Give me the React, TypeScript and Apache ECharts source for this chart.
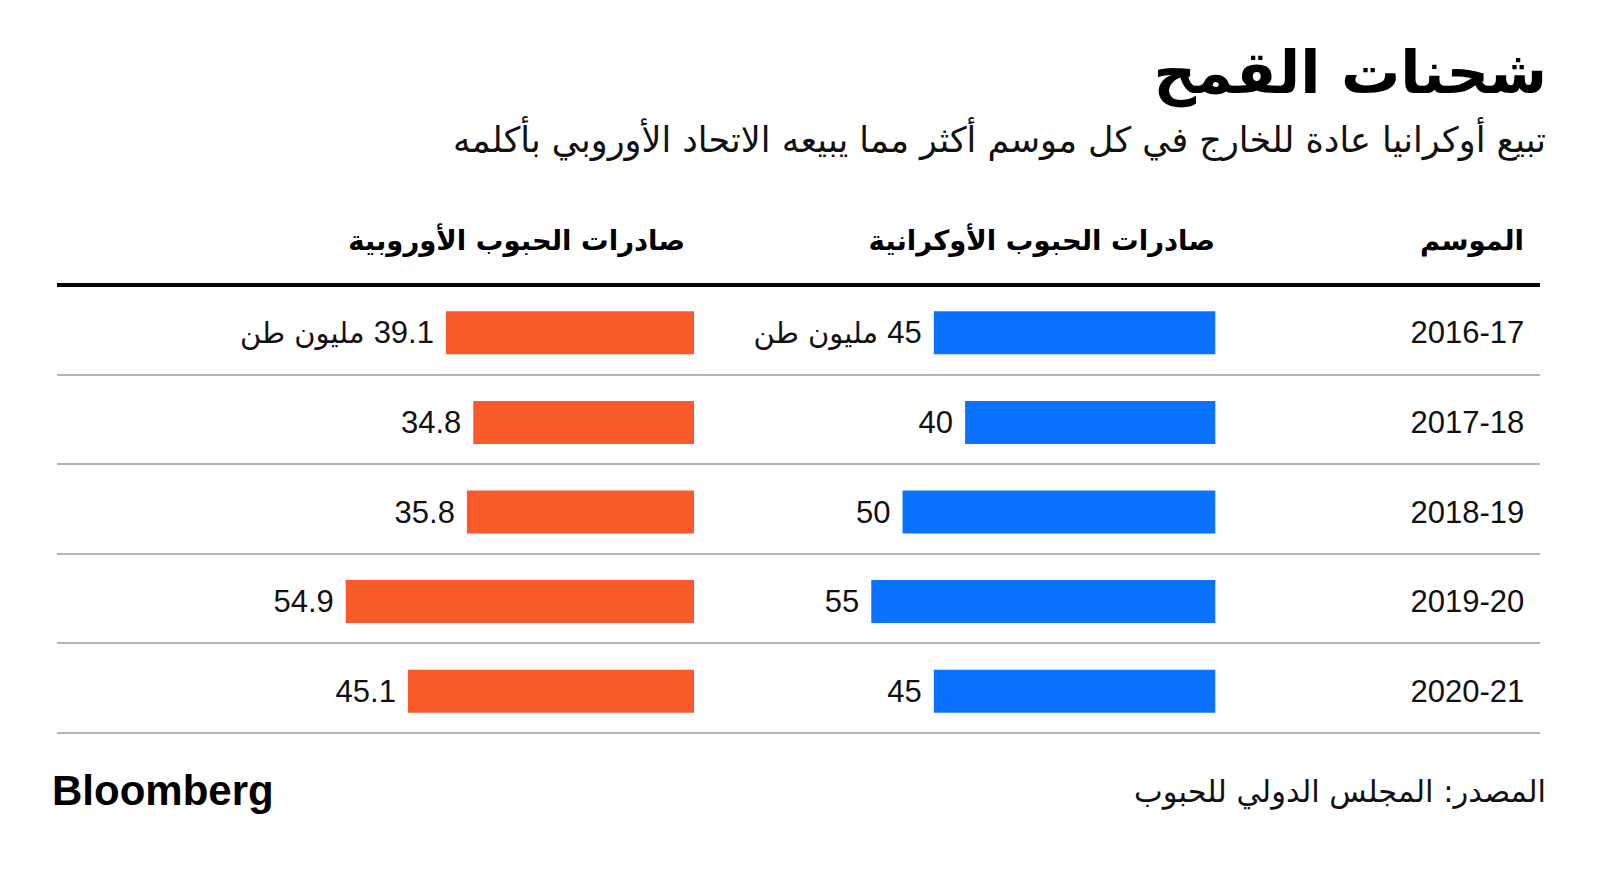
import React, { useEffect, useRef } from "react";
import * as echarts from "echarts";

const seasons = ["2016-17", "2017-18", "2018-19", "2019-20", "2020-21"];
const ukraineExports = [45, 40, 50, 55, 45];
const euExports = [39.1, 34.8, 35.8, 54.9, 45.1];

const titleText = "شحنات القمح";
const subtitleText = "تبيع أوكرانيا عادة للخارج في كل موسم أكثر مما يبيعه الاتحاد الأوروبي بأكلمه";
const headerSeason = "الموسم";
const headerUkraine = "صادرات الحبوب الأوكرانية";
const headerEU = "صادرات الحبوب الأوروبية";
const unitText = "مليون طن";
const sourceText = "المصدر: المجلس الدولي للحبوب";

const BLUE = "#0a72ff";
const ORANGE = "#fa5a2a";
const NUM_FONT = "'Liberation Sans', Arial, Helvetica, sans-serif";
const AR_FONT = "'DejaVu Sans', 'Noto Sans', sans-serif";

export default function App() {
  const ref = useRef<HTMLDivElement>(null);

  useEffect(() => {
    if (!ref.current) return;
    const chart = echarts.init(ref.current, null, { renderer: "svg" });

    const labelFormatter = (p: any) =>
      p.dataIndex === 0 ? `{u|${unitText} }{n|${p.value}}` : `{n|${p.value}}`;
    const labelRich = {
      u: { fontFamily: AR_FONT, fontSize: 29, color: "#111" },
      n: { fontFamily: NUM_FONT, fontSize: 31, color: "#111" },
    };

    const option: any = {
      animation: false,
      backgroundColor: "#ffffff",
      grid: [
        { left: 57, right: 60, top: 284.7, height: 448 },
        { left: 840, right: 384.7, top: 288, height: 448 },
        { left: 313.4, right: 906, top: 288, height: 448 },
      ],
      xAxis: [
        {
          gridIndex: 0,
          type: "value",
          position: "top",
          min: 0,
          max: 1,
          z: 5,
          axisLine: { show: true, lineStyle: { color: "#000", width: 4, cap: "butt" } },
          axisTick: { show: false },
          axisLabel: { show: false },
          splitLine: { show: false },
        },
        { gridIndex: 1, type: "value", min: 0, max: 60, inverse: true, show: false },
        { gridIndex: 2, type: "value", min: 0, max: 60, inverse: true, show: false },
      ],
      yAxis: [
        {
          gridIndex: 0,
          type: "category",
          data: seasons,
          inverse: true,
          axisLine: { show: false },
          axisTick: { show: false },
          axisLabel: { show: false },
          splitLine: { show: true, lineStyle: { color: "#9a9a9a", width: 1.6 } },
        },
        {
          gridIndex: 1,
          type: "category",
          data: seasons,
          inverse: true,
          position: "right",
          axisLine: { show: false },
          axisTick: { show: false },
          splitLine: { show: false },
          axisLabel: {
            show: true,
            margin: 309,
            align: "right",
            fontFamily: NUM_FONT,
            fontSize: 31,
            color: "#111",
          },
        },
        {
          gridIndex: 2,
          type: "category",
          data: seasons,
          inverse: true,
          show: false,
        },
      ],
      series: [
        {
          name: headerUkraine,
          type: "bar",
          xAxisIndex: 1,
          yAxisIndex: 1,
          data: ukraineExports,
          barWidth: 43,
          itemStyle: { color: BLUE },
          label: {
            show: true,
            position: "left",
            distance: 12,
            formatter: labelFormatter,
            rich: labelRich,
          },
        },
        {
          name: headerEU,
          type: "bar",
          xAxisIndex: 2,
          yAxisIndex: 2,
          data: euExports,
          barWidth: 43,
          itemStyle: { color: ORANGE },
          label: {
            show: true,
            position: "left",
            distance: 12,
            formatter: labelFormatter,
            rich: labelRich,
          },
        },
      ],
      graphic: [
        {
          type: "text",
          x: 1547,
          y: 72,
          style: {
            text: titleText,
            fontFamily: AR_FONT,
            fontWeight: "bold",
            fontSize: 59,
            fill: "#000",
            textAlign: "right",
            textVerticalAlign: "middle",
          },
        },
        {
          type: "text",
          x: 1546,
          y: 140,
          style: {
            text: subtitleText,
            fontFamily: AR_FONT,
            fontSize: 35,
            fill: "#111",
            textAlign: "right",
            textVerticalAlign: "middle",
          },
        },
        {
          type: "text",
          x: 1524,
          y: 240,
          style: {
            text: headerSeason,
            fontFamily: AR_FONT,
            fontWeight: "bold",
            fontSize: 27.5,
            fill: "#000",
            textAlign: "right",
            textVerticalAlign: "middle",
          },
        },
        {
          type: "text",
          x: 1215,
          y: 240,
          style: {
            text: headerUkraine,
            fontFamily: AR_FONT,
            fontWeight: "bold",
            fontSize: 27.5,
            fill: "#000",
            textAlign: "right",
            textVerticalAlign: "middle",
          },
        },
        {
          type: "text",
          x: 685,
          y: 240,
          style: {
            text: headerEU,
            fontFamily: AR_FONT,
            fontWeight: "bold",
            fontSize: 27.5,
            fill: "#000",
            textAlign: "right",
            textVerticalAlign: "middle",
          },
        },
        {
          type: "text",
          x: 52,
          y: 790,
          style: {
            text: "Bloomberg",
            fontFamily: "'Liberation Sans', Arial, sans-serif",
            fontWeight: "bold",
            fontSize: 42,
            fill: "#000",
            textAlign: "left",
            textVerticalAlign: "middle",
          },
        },
        {
          type: "text",
          x: 1546,
          y: 791,
          style: {
            text: sourceText,
            fontFamily: AR_FONT,
            fontSize: 30.5,
            fill: "#111",
            textAlign: "right",
            textVerticalAlign: "middle",
          },
        },
      ],
    };

    chart.setOption(option);
    return () => chart.dispose();
  }, []);

  return (
    <div
      ref={ref}
      style={{ position: "fixed", left: 0, top: 0, width: 1600, height: 871, background: "#fff" }}
    />
  );
}
